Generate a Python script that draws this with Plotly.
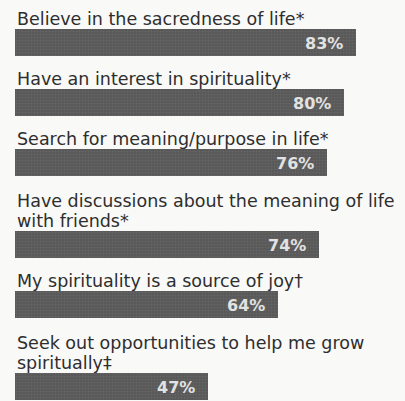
import plotly.graph_objects as go

# Survey items (label lines) and share of respondents agreeing
labels = [
    ["Believe in the sacredness of life*"],
    ["Have an interest in spirituality*"],
    ["Search for meaning/purpose in life*"],
    ["Have discussions about the meaning of life", "with friends*"],
    ["My spirituality is a source of joy\u2020"],
    ["Seek out opportunities to help me grow", "spiritually\u2021"],
]
values = [83, 80, 76, 74, 64, 47]

W, H = 405, 401
LEFT = 15
BAR_H = 27
BLOCK = 60        # label line + bar + gap
LINE = 22         # extra height per additional label line
LINE_PITCH = 20   # baseline-to-baseline inside a label
FIRST_TOP = 29
PX_PER_PCT = 4.11

# bar tops in pixel units, growing with the number of label lines
tops = []
t = FIRST_TOP
for i, lab in enumerate(labels):
    if i > 0:
        t += BLOCK + LINE * (len(lab) - 1)
    tops.append(t)
centers = [tp + BAR_H / 2 for tp in tops]

fig = go.Figure(
    go.Bar(
        x=values,
        y=centers,
        orientation="h",
        width=BAR_H,
        marker=dict(
            color="#5a5a5a",
            line=dict(width=0),
            pattern=dict(shape=".", fgcolor="#767676", bgcolor="#595959",
                         size=3, solidity=0.25),
        ),
        hoverinfo="skip",
    )
)

FONT = "DejaVu Sans, Verdana, sans-serif"
ann = []
for lab, tp, v, c in zip(labels, tops, values, centers):
    n = len(lab)
    for k, line in enumerate(lab):
        baseline = tp - 4 - LINE_PITCH * (n - 1 - k)
        ann.append(dict(
            x=0, y=baseline, xref="x", yref="y", xanchor="left", yanchor="bottom",
            text=line, showarrow=False, yshift=-6,
            font=dict(family=FONT, size=17.5, color="#2e2e2e"),
        ))
    ann.append(dict(
        x=v, y=c, xref="x", yref="y", xanchor="right", yanchor="middle",
        text=f"{v}%", showarrow=False, xshift=-11, yshift=-1,
        font=dict(family=FONT, size=16, color="#e2e2e2", weight="bold"),
    ))

fig.update_layout(
    width=W, height=H,
    margin=dict(l=LEFT, r=0, t=0, b=0),
    paper_bgcolor="#f9f9f8",
    plot_bgcolor="#f9f9f8",
    showlegend=False,
    annotations=ann,
    xaxis=dict(range=[0, (W - LEFT) / PX_PER_PCT], visible=False, fixedrange=True),
    yaxis=dict(range=[H, 0], visible=False, fixedrange=True),
    bargap=0,
)

fig.write_html("out.html")
